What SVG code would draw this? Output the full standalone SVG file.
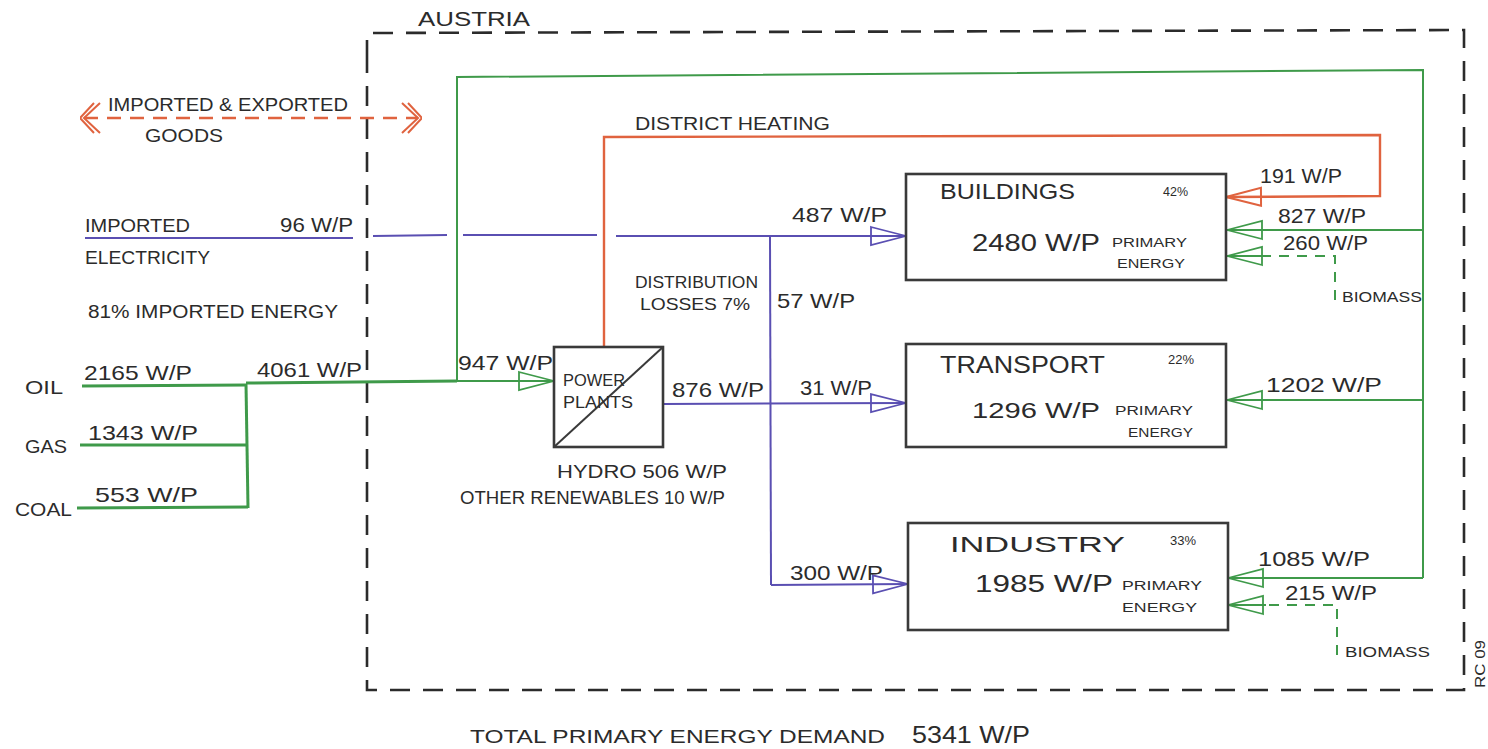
<svg xmlns="http://www.w3.org/2000/svg" width="1488" height="749" viewBox="0 0 1488 749">
<defs>
<style>
text{font-family:"Liberation Sans","DejaVu Sans",sans-serif;fill:#2b2b2b;}
.box{fill:none;stroke:#3a3a3a;stroke-width:2.6;}
.green{fill:none;stroke:#3f9a4a;stroke-width:2;}
.greenT{fill:none;stroke:#3f9a4a;stroke-width:3;}
.greenD{fill:none;stroke:#3f9a4a;stroke-width:2;stroke-dasharray:10 8;}
.purple{fill:none;stroke:#5a4fb2;stroke-width:2;}
.red{fill:none;stroke:#e0633f;stroke-width:2.4;}
.redD{fill:none;stroke:#e0633f;stroke-width:2.4;stroke-dasharray:14 9;}
.border{fill:none;stroke:#2b2b2b;stroke-width:2.6;stroke-dasharray:20 13;}
</style>
<marker id="ag" markerUnits="userSpaceOnUse" viewBox="0 0 38 22" refX="37" refY="11" markerWidth="38" markerHeight="22" orient="auto"><path d="M2,2 L37,11 L2,20 Z" fill="none" stroke="#3f9a4a" stroke-width="1.8"/></marker>
<marker id="ap" markerUnits="userSpaceOnUse" viewBox="0 0 38 22" refX="37" refY="11" markerWidth="38" markerHeight="22" orient="auto"><path d="M2,2 L37,11 L2,20 Z" fill="none" stroke="#5a4fb2" stroke-width="1.8"/></marker>
<marker id="ar" markerUnits="userSpaceOnUse" viewBox="0 0 38 22" refX="37" refY="11" markerWidth="38" markerHeight="22" orient="auto"><path d="M2,2 L37,11 L2,20 Z" fill="none" stroke="#e0633f" stroke-width="2"/></marker>
<marker id="cr" markerUnits="userSpaceOnUse" viewBox="0 0 24 36" refX="20" refY="18" markerWidth="24" markerHeight="36" orient="auto-start-reverse"><path d="M4,3 L20,18 L4,33 M10,3 L24,18 L10,33" fill="none" stroke="#e0633f" stroke-width="2"/></marker>
</defs>
<rect width="1488" height="749" fill="#ffffff"/>

<g id="austria">
<path class="border" d="M367,60 L367,33 L1464,30 L1464,690 L367,690 Z"/>
<text x="418" y="26" font-size="20" textLength="112" lengthAdjust="spacingAndGlyphs">AUSTRIA</text>
</g>

<g id="connectors">
<!-- goods -->
<line class="redD" x1="84" y1="118" x2="418" y2="118" marker-start="url(#cr)" marker-end="url(#cr)"/>
<!-- green loop -->
<polyline class="green" points="457,380 457,77 1423,70 1423,578"/>
<!-- fossil inputs -->
<line class="greenT" x1="82" y1="386" x2="247" y2="385"/>
<line class="greenT" x1="80" y1="445" x2="247" y2="445"/>
<line class="greenT" x1="77" y1="508" x2="248" y2="507"/>
<line class="greenT" x1="246" y1="384" x2="248" y2="508"/>
<line class="greenT" x1="246" y1="383" x2="457" y2="381"/>
<line class="green" x1="457" y1="381" x2="554" y2="381" marker-end="url(#ag)"/>
<!-- imported electricity -->
<line class="purple" x1="85" y1="238" x2="353" y2="238"/>
<line class="purple" x1="373" y1="236" x2="447" y2="235"/>
<line class="purple" x1="463" y1="235" x2="597" y2="235"/>
<line class="purple" x1="616" y1="236" x2="906" y2="236" marker-end="url(#ap)"/>
<!-- distribution -->
<line class="purple" x1="770" y1="236" x2="771" y2="585"/>
<line class="purple" x1="663" y1="404" x2="906" y2="403" marker-end="url(#ap)"/>
<line class="purple" x1="771" y1="585" x2="908" y2="584" marker-end="url(#ap)"/>
<!-- district heating -->
<polyline class="red" points="604,347 604,137 1380,135 1380,196 1226,197" marker-end="url(#ar)"/>
<!-- green to sectors -->
<line class="green" x1="1423" y1="230" x2="1227" y2="230" marker-end="url(#ag)"/>
<line class="green" x1="1423" y1="400" x2="1227" y2="400" marker-end="url(#ag)"/>
<line class="green" x1="1423" y1="578" x2="1228" y2="578" marker-end="url(#ag)"/>
<!-- biomass -->
<polyline class="greenD" points="1335,300 1335,256 1266,256"/>
<line class="green" x1="1266" y1="256" x2="1227" y2="256" marker-end="url(#ag)"/>
<polyline class="greenD" points="1337,655 1337,605 1266,605"/>
<line class="green" x1="1266" y1="605" x2="1228" y2="605" marker-end="url(#ag)"/>
</g>

<g id="imports">
<text x="108" y="111" font-size="18" textLength="240" lengthAdjust="spacingAndGlyphs">IMPORTED &amp; EXPORTED</text>
<text x="145" y="142" font-size="18" textLength="78" lengthAdjust="spacingAndGlyphs">GOODS</text>
<text x="85" y="232" font-size="18" textLength="105" lengthAdjust="spacingAndGlyphs">IMPORTED</text>
<text x="280" y="232" font-size="20" textLength="73" lengthAdjust="spacingAndGlyphs">96 W/P</text>
<text x="85" y="264" font-size="18" textLength="125" lengthAdjust="spacingAndGlyphs">ELECTRICITY</text>
<text x="88" y="318" font-size="18" textLength="250" lengthAdjust="spacingAndGlyphs">81% IMPORTED ENERGY</text>
</g>

<g id="fossil">
<text x="25" y="394" font-size="18" textLength="38" lengthAdjust="spacingAndGlyphs">OIL</text>
<text x="84" y="380" font-size="21" textLength="108" lengthAdjust="spacingAndGlyphs">2165 W/P</text>
<text x="257" y="377" font-size="21" textLength="105" lengthAdjust="spacingAndGlyphs">4061 W/P</text>
<text x="25" y="453" font-size="18" textLength="42" lengthAdjust="spacingAndGlyphs">GAS</text>
<text x="88" y="440" font-size="21" textLength="110" lengthAdjust="spacingAndGlyphs">1343 W/P</text>
<text x="15" y="516" font-size="18" textLength="57" lengthAdjust="spacingAndGlyphs">COAL</text>
<text x="95" y="502" font-size="21" textLength="103" lengthAdjust="spacingAndGlyphs">553 W/P</text>
</g>

<g id="power-plants">
<rect class="box" x="554" y="347" width="109" height="100"/>
<line x1="554" y1="447" x2="663" y2="347" stroke="#3a3a3a" stroke-width="2"/>
<text x="563" y="386" font-size="16" textLength="62" lengthAdjust="spacingAndGlyphs">POWER</text>
<text x="563" y="408" font-size="16" textLength="70" lengthAdjust="spacingAndGlyphs">PLANTS</text>
<text x="458" y="370" font-size="20" textLength="95" lengthAdjust="spacingAndGlyphs">947 W/P</text>
<text x="672" y="397" font-size="21" textLength="92" lengthAdjust="spacingAndGlyphs">876 W/P</text>
<text x="557" y="478" font-size="19" textLength="170" lengthAdjust="spacingAndGlyphs">HYDRO 506 W/P</text>
<text x="460" y="504" font-size="18" textLength="265" lengthAdjust="spacingAndGlyphs">OTHER RENEWABLES 10 W/P</text>
</g>

<g id="distribution">
<text x="635" y="130" font-size="18" textLength="195" lengthAdjust="spacingAndGlyphs">DISTRICT HEATING</text>
<text x="635" y="288" font-size="17" textLength="123" lengthAdjust="spacingAndGlyphs">DISTRIBUTION</text>
<text x="640" y="310" font-size="17" textLength="110" lengthAdjust="spacingAndGlyphs">LOSSES 7%</text>
<text x="777" y="308" font-size="21" textLength="78" lengthAdjust="spacingAndGlyphs">57 W/P</text>
<text x="792" y="222" font-size="21" textLength="95" lengthAdjust="spacingAndGlyphs">487 W/P</text>
<text x="800" y="395" font-size="21" textLength="72" lengthAdjust="spacingAndGlyphs">31 W/P</text>
<text x="790" y="580" font-size="20" textLength="93" lengthAdjust="spacingAndGlyphs">300 W/P</text>
</g>

<g id="buildings">
<rect class="box" x="906" y="174" width="320" height="106"/>
<text x="940" y="199" font-size="22" textLength="135" lengthAdjust="spacingAndGlyphs">BUILDINGS</text>
<text x="1163" y="196" font-size="13" textLength="25" lengthAdjust="spacingAndGlyphs">42%</text>
<text x="972" y="251" font-size="24" textLength="128" lengthAdjust="spacingAndGlyphs">2480 W/P</text>
<text x="1112" y="247" font-size="12" textLength="75" lengthAdjust="spacingAndGlyphs">PRIMARY</text>
<text x="1117" y="268" font-size="12" textLength="68" lengthAdjust="spacingAndGlyphs">ENERGY</text>
<text x="1260" y="183" font-size="20" textLength="82" lengthAdjust="spacingAndGlyphs">191 W/P</text>
<text x="1278" y="223" font-size="20" textLength="88" lengthAdjust="spacingAndGlyphs">827 W/P</text>
<text x="1283" y="250" font-size="20" textLength="85" lengthAdjust="spacingAndGlyphs">260 W/P</text>
<text x="1342" y="302" font-size="15" textLength="80" lengthAdjust="spacingAndGlyphs">BIOMASS</text>
</g>

<g id="transport">
<rect class="box" x="906" y="344" width="320" height="103"/>
<text x="940" y="373" font-size="24" textLength="165" lengthAdjust="spacingAndGlyphs">TRANSPORT</text>
<text x="1168" y="364" font-size="13" textLength="26" lengthAdjust="spacingAndGlyphs">22%</text>
<text x="972" y="418" font-size="22" textLength="128" lengthAdjust="spacingAndGlyphs">1296 W/P</text>
<text x="1115" y="415" font-size="12" textLength="78" lengthAdjust="spacingAndGlyphs">PRIMARY</text>
<text x="1128" y="437" font-size="12" textLength="65" lengthAdjust="spacingAndGlyphs">ENERGY</text>
<text x="1266" y="392" font-size="20" textLength="116" lengthAdjust="spacingAndGlyphs">1202 W/P</text>
</g>

<g id="industry">
<rect class="box" x="908" y="523" width="320" height="107"/>
<text x="950" y="552" font-size="22" textLength="175" lengthAdjust="spacingAndGlyphs">INDUSTRY</text>
<text x="1170" y="545" font-size="13" textLength="26" lengthAdjust="spacingAndGlyphs">33%</text>
<text x="975" y="592" font-size="23" textLength="138" lengthAdjust="spacingAndGlyphs">1985 W/P</text>
<text x="1122" y="590" font-size="12" textLength="80" lengthAdjust="spacingAndGlyphs">PRIMARY</text>
<text x="1122" y="612" font-size="12" textLength="75" lengthAdjust="spacingAndGlyphs">ENERGY</text>
<text x="1258" y="566" font-size="20" textLength="112" lengthAdjust="spacingAndGlyphs">1085 W/P</text>
<text x="1285" y="600" font-size="20" textLength="92" lengthAdjust="spacingAndGlyphs">215 W/P</text>
<text x="1345" y="657" font-size="15" textLength="85" lengthAdjust="spacingAndGlyphs">BIOMASS</text>
</g>

<g id="total">
<text x="470" y="743" font-size="19" textLength="415" lengthAdjust="spacingAndGlyphs">TOTAL PRIMARY ENERGY DEMAND</text>
<text x="912" y="743" font-size="24" textLength="118" lengthAdjust="spacingAndGlyphs">5341 W/P</text>
<text transform="translate(1485,688) rotate(-90)" font-size="14" textLength="48" lengthAdjust="spacingAndGlyphs">RC 09</text>
</g>
</svg>
